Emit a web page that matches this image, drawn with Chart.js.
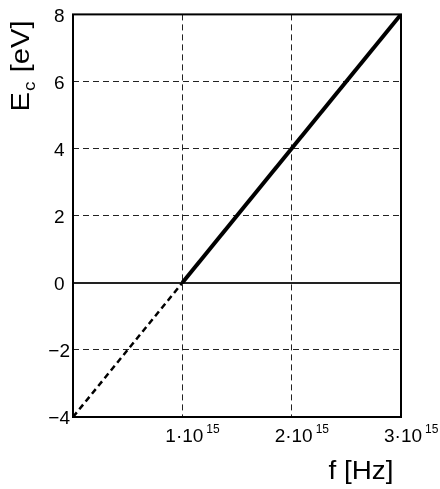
<!DOCTYPE html>
<html>
<head>
<meta charset="utf-8">
<script src="https://cdn.jsdelivr.net/npm/chart.js@4"></script>
<style>
  html, body { margin: 0; padding: 0; background: #fff; }
  #wrap { width: 440px; height: 489px; }
</style>
</head>
<body>
<div id="wrap"><canvas id="chart" width="440" height="489"></canvas></div>
<script>
// データ
const freq = [0, 1e15, 2e15, 3e15];     // f [Hz]
const energy = [-4, 0, 4, 8];           // Ec [eV]
const xTicks = [1, 2, 3];               // 1·10^15, 2·10^15, 3·10^15
const yTicks = [-4, -2, 0, 2, 4, 6, 8];

const FONT = "'Liberation Sans', Arial, Helvetica, sans-serif";

// 破線部分 (f < 1e15) と実線部分
const dashedPts = [0, 1].map(i => ({ x: freq[i], y: energy[i] }));
const solidPts = [1, 2, 3].map(i => ({ x: freq[i], y: energy[i] }));

// 枠・軸ラベルを描くプラグイン
const decor = {
    id: "decor",
    afterDraw(chart) {
        const { ctx, chartArea: a, scales } = chart;
        ctx.save();

        // 枠
        ctx.strokeStyle = "#000";
        ctx.lineWidth = 2;
        ctx.strokeRect(a.left, a.top, a.right - a.left, a.bottom - a.top);

        // x 目盛ラベル  N·10^15
        ctx.fillStyle = "#000";
        ctx.textBaseline = "alphabetic";
        xTicks.forEach(n => {
            const px = scales.x.getPixelForValue(n * 1e15);
            ctx.font = "19px " + FONT;
            const base = n + "\u00b710";
            const w = ctx.measureText(base).width;
            const x0 = px - w / 2 + 2;
            ctx.textAlign = "left";
            ctx.fillText(base, x0, 442);
            ctx.font = "12px " + FONT;
            ctx.fillText("15", x0 + w + 3, 433);
        });

        // x 軸タイトル
        ctx.save();
        ctx.translate(361, 479);
        ctx.scale(1.07, 1);
        ctx.font = "26px " + FONT;
        ctx.textAlign = "center";
        ctx.fillText("f [Hz]", 0, 0);
        ctx.restore();

        // y 軸タイトル  E_c [eV]
        ctx.translate(29, 66);
        ctx.rotate(-Math.PI / 2);
        ctx.scale(1.12, 1);
        ctx.font = "26px " + FONT;
        const wE = ctx.measureText("E").width;
        ctx.font = "17px " + FONT;
        const wc = ctx.measureText("c").width;
        ctx.font = "26px " + FONT;
        const wR = ctx.measureText(" [eV]").width;
        let x = -(wE + wc + 2 + wR) / 2;
        ctx.textAlign = "left";
        ctx.fillText("E", x, 0);
        x += wE + 1;
        ctx.font = "17px " + FONT;
        ctx.fillText("c", x, 6);
        x += wc + 1;
        ctx.font = "26px " + FONT;
        ctx.fillText(" [eV]", x, 0);

        ctx.restore();
    }
};

new Chart(document.getElementById("chart"), {
    type: "line",
    data: {
        datasets: [
            {
                data: dashedPts,
                borderColor: "#000",
                borderWidth: 2.5,
                borderDash: [6, 4],
                pointRadius: 0,
                tension: 0,
            },
            {
                data: solidPts,
                borderColor: "#000",
                borderWidth: 4,
                pointRadius: 0,
                tension: 0,
            },
        ],
    },
    options: {
        responsive: false,
        animation: false,
        layout: { padding: { left: 0, top: 14, right: 39, bottom: 0 } },
        plugins: {
            legend: { display: false },
            tooltip: { enabled: false },
        },
        scales: {
            x: {
                type: "linear",
                min: freq[0],
                max: freq[freq.length - 1],
                ticks: { display: false, stepSize: 1e15 },
                grid: {
                    drawTicks: false,
                    color: "#222",
                    lineWidth: 1,
                },
                border: { display: false, dash: [6, 4] },
                afterFit: s => { s.height = 72; },
            },
            y: {
                min: yTicks[0],
                max: yTicks[yTicks.length - 1],
                afterBuildTicks: s => { s.ticks = yTicks.map(v => ({ value: v })); },
                ticks: {
                    crossAlign: "center",
                    padding: 3,
                    labelOffset: 2,
                    color: "#000",
                    font: { family: FONT, size: 19 },
                    callback: v => String(v).replace("-", "\u2212"),
                },
                grid: {
                    drawTicks: false,
                    color: "#222",
                    lineWidth: ctx => (ctx.tick && ctx.tick.value === 0 ? 2 : 1),
                },
                border: {
                    display: false,
                    dash: ctx => (ctx.tick && ctx.tick.value === 0 ? [] : [6, 4]),
                },
                afterFit: s => { s.width = 73; },
            },
        },
    },
    plugins: [decor],
});
</script>
</body>
</html>
